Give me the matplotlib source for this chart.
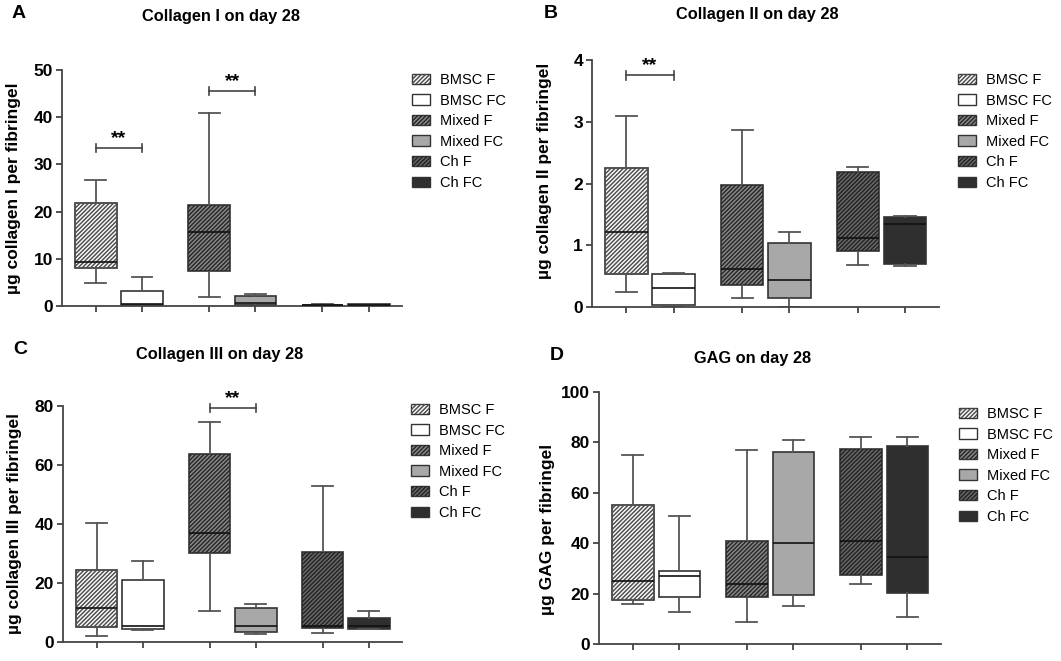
import matplotlib
matplotlib.use('Agg')
import matplotlib.pyplot as plt
from matplotlib.patches import Patch, PathPatch
from matplotlib.legend_handler import HandlerTuple

plt.rcParams['font.family'] = ['Liberation Sans', 'DejaVu Sans']
plt.rcParams['hatch.linewidth'] = 1.1

groups = ['BMSC F', 'BMSC FC', 'Mixed F', 'Mixed FC', 'Ch F', 'Ch FC']
positions = [1, 2, 3.45, 4.45, 5.9, 6.9]

# box look per group: face colour, hatch, hatch colour
faces = ['white', 'white', '#8c8c8c', '#a8a8a8', '#6b6b6b', '#2f2f2f']
hatches = ['////////', None, '////////', None, '////////', None]
hatch_cols = ['#505050', None, '#2a2a2a', None, '#252525', None]

# collagen I on day 28 (lower whisker, q1, median, q3, upper whisker)
col1_lo = [4.95, 0.0, 1.9, 0.05, 0.1, 0.1]
col1_q1 = [8.1, 0.15, 7.4, 0.15, 0.12, 0.15]
col1_med = [9.3, 0.5, 15.6, 0.65, 0.2, 0.25]
col1_q3 = [21.85, 3.25, 21.5, 2.05, 0.3, 0.35]
col1_hi = [26.8, 6.1, 40.9, 2.5, 0.35, 0.4]
col1_sig = [(0, 1, 33.5), (2, 3, 45.5)]

# collagen II
col2_lo = [0.25, 0.02, 0.15, 0.0, 0.68, 0.67]
col2_q1 = [0.54, 0.03, 0.35, 0.15, 0.91, 0.70]
col2_med = [1.21, 0.31, 0.61, 0.44, 1.11, 1.34]
col2_q3 = [2.25, 0.53, 1.97, 1.03, 2.19, 1.46]
col2_hi = [3.09, 0.55, 2.87, 1.21, 2.27, 1.48]
col2_sig = [(0, 1, 3.75)]

# collagen III
col3_lo = [2.1, 4.0, 10.6, 2.7, 3.05, 4.3]
col3_q1 = [5.0, 4.5, 30.1, 3.4, 4.6, 4.5]
col3_med = [11.5, 5.5, 37.0, 5.4, 5.3, 5.5]
col3_q3 = [24.3, 20.9, 63.6, 11.4, 30.4, 8.0]
col3_hi = [40.2, 27.3, 74.7, 12.8, 52.9, 10.6]
col3_sig = [(2, 3, 79.2)]

# GAG
gag_lo = [15.9, 12.8, 8.7, 14.9, 23.8, 10.8]
gag_q1 = [17.5, 18.8, 18.8, 19.3, 27.4, 20.2]
gag_med = [25.1, 27.0, 23.8, 40.1, 40.7, 34.4]
gag_q3 = [55.0, 29.0, 40.9, 76.3, 77.5, 78.6]
gag_hi = [75.0, 50.9, 77.0, 81.0, 82.0, 82.0]
gag_sig = []

W, H = 1061, 661


def px_rect(left, top, right, bottom):
    return [left / W, 1 - bottom / H, (right - left) / W, (bottom - top) / H]


def box_panel(fig, rect, lo, q1, med, q3, hi, sig, ymax, step, ylabel, title,
              letter, title_xy, letter_xy, ylab_xy, leg_xy):
    ax = fig.add_axes(rect)
    stats = []
    for i in range(len(groups)):
        stats.append({'whislo': lo[i], 'q1': q1[i], 'med': med[i],
                      'q3': q3[i], 'whishi': hi[i], 'label': groups[i]})
    bp = ax.bxp(stats, positions=positions, widths=0.9, patch_artist=True,
                showfliers=False, capwidths=0.45,
                boxprops=dict(edgecolor='#333333', linewidth=1.2),
                whiskerprops=dict(color='#555555', linewidth=1.3),
                capprops=dict(color='#555555', linewidth=1.3),
                medianprops=dict(color='#111111', linewidth=1.2))
    for i, b in enumerate(bp['boxes']):
        b.set_facecolor(faces[i])
        if hatches[i]:
            hp = PathPatch(b.get_path(), facecolor='none', edgecolor=hatch_cols[i],
                           hatch=hatches[i], linewidth=0, zorder=2.05)
            ax.add_patch(hp)
    for m in bp['medians']:
        m.set_zorder(3)

    # significance brackets
    for i, j, y in sig:
        x1, x2 = positions[i], positions[j]
        d = ymax * 0.017
        ax.plot([x1, x2], [y, y], color='#444444', lw=1.2, clip_on=False)
        ax.plot([x1, x1], [y - d, y + d], color='#444444', lw=1.2, clip_on=False)
        ax.plot([x2, x2], [y - d, y + d], color='#444444', lw=1.2, clip_on=False)
        ax.text((x1 + x2) / 2, y + ymax * 0.005, '**', ha='center', va='bottom',
                fontsize=14, fontweight='bold')

    ax.set_xlim(0.27, 7.62)
    ax.set_ylim(0, ymax)
    n = int(round(ymax / step)) + 1
    ax.set_yticks([k * step for k in range(n)])
    ax.set_yticklabels([('%g' % (k * step)) for k in range(n)], fontweight='bold')
    ax.set_xticks(positions)
    ax.set_xticklabels([''] * len(positions))
    ax.tick_params(axis='both', direction='out', length=4, width=1.3, pad=2.5,
                   color='#444444', labelsize=12.5)
    for s in ['top', 'right']:
        ax.spines[s].set_visible(False)
    for s in ['left', 'bottom']:
        ax.spines[s].set_linewidth(1.3)
        ax.spines[s].set_color('#444444')

    ax.set_ylabel(ylabel, fontsize=12.5, fontweight='bold')
    ax.yaxis.set_label_coords(*ylab_xy)

    fig.text(title_xy[0] / W, 1 - title_xy[1] / H, title, ha='center', va='center',
             fontsize=11.8, fontweight='bold')
    fig.text(letter_xy[0] / W, 1 - letter_xy[1] / H, letter, ha='left', va='center',
             fontsize=14, fontweight='bold')

    handles = []
    for i in range(len(groups)):
        base = Patch(facecolor=faces[i], edgecolor='#333333', linewidth=1.0)
        if hatches[i]:
            handles.append((base, Patch(facecolor='none', edgecolor=hatch_cols[i],
                                        hatch=hatches[i], linewidth=0)))
        else:
            handles.append(base)
    ax.legend(handles, groups, loc='upper left',
              bbox_to_anchor=(leg_xy[0] / W, 1 - leg_xy[1] / H),
              bbox_transform=fig.transFigure, frameon=False, fontsize=10.5,
              handlelength=1.25, handleheight=0.7, handletextpad=0.7,
              labelspacing=0.45, borderpad=0, borderaxespad=0,
              handler_map={tuple: HandlerTuple(ndivide=1, pad=0)})
    return ax


fig = plt.figure(figsize=(W / 100, H / 100), dpi=100)

box_panel(fig, px_rect(62, 70, 402, 306), col1_lo, col1_q1, col1_med, col1_q3, col1_hi,
          col1_sig, 50, 10, 'µg collagen I per fibringel', 'Collagen I on day 28', 'A',
          (221, 16), (12, 14), (-0.12, 0.5), (412, 73))
box_panel(fig, px_rect(592, 60, 939, 307), col2_lo, col2_q1, col2_med, col2_q3, col2_hi,
          col2_sig, 4, 1, 'µg collagen II per fibringel', 'Collagen II on day 28', 'B',
          (757, 15), (544, 14), (-0.115, 0.55), (958, 73))
box_panel(fig, px_rect(63, 406, 402, 642), col3_lo, col3_q1, col3_med, col3_q3, col3_hi,
          col3_sig, 80, 20, 'µg collagen III per fibringel', 'Collagen III on day 28', 'C',
          (220, 354), (13, 350), (-0.121, 0.5), (411, 403))
box_panel(fig, px_rect(599, 392, 941, 644), gag_lo, gag_q1, gag_med, gag_q3, gag_hi,
          gag_sig, 100, 20, 'µg GAG per fibringel', 'GAG on day 28', 'D',
          (753, 358), (550, 355), (-0.13, 0.456), (959, 407))

fig.savefig('out.png', dpi=100)
